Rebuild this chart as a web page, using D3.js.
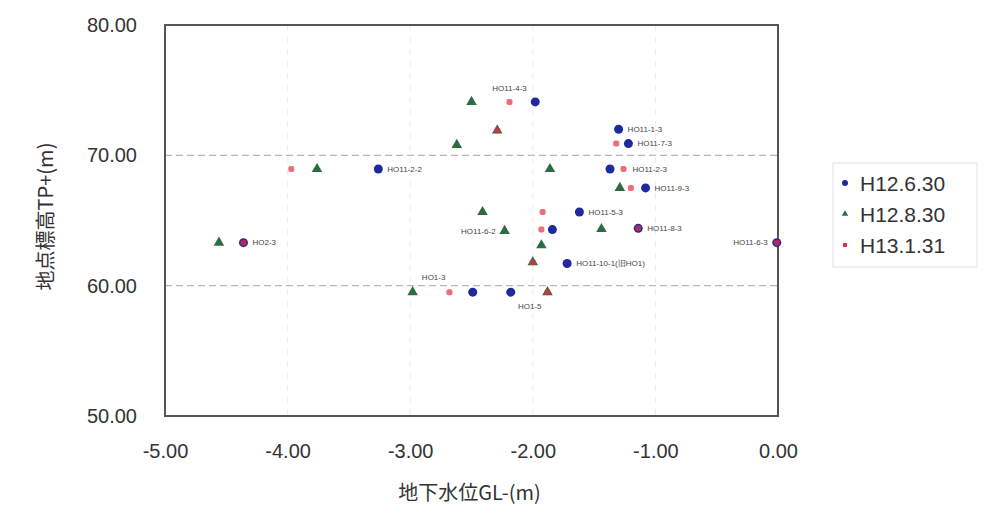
<!DOCTYPE html>
<html>
<head>
<meta charset="utf-8">
<script src="https://cdn.jsdelivr.net/npm/d3@7"></script>
<style>
  body { margin: 0; background: #fff; }
  text { font-family: "Liberation Sans", Arial, sans-serif; }
</style>
</head>
<body>
<div id="chart"></div>
<script>
// series (x = 地下水位 GL-, y = 地点標高 TP+)
var seriesNames = ["H12.6.30", "H12.8.30", "H13.1.31"];

var june = [
  [-1.98, 74.1], [-1.30, 72.0], [-1.22, 70.9], [-3.26, 68.95], [-1.37, 68.95],
  [-1.08, 67.5], [-1.62, 65.65], [-1.84, 64.3], [-1.14, 64.4], [-0.01, 63.3],
  [-4.36, 63.3], [-1.72, 61.7], [-2.49, 59.5], [-2.18, 59.5]
];
var august = [
  [-2.50, 74.1], [-2.62, 70.8], [-3.76, 68.95], [-1.86, 68.95], [-1.29, 67.5],
  [-2.41, 65.65], [-2.23, 64.2], [-1.44, 64.35], [-1.93, 63.1], [-4.56, 63.3],
  [-2.98, 59.5], [-1.88, 59.5], [-2.00, 61.8], [-2.29, 71.9]
];
var january = [
  [-2.19, 74.1], [-2.29, 71.9], [-1.32, 70.9], [-3.97, 68.95], [-1.26, 68.95],
  [-1.20, 67.5], [-1.92, 65.65], [-1.93, 64.3], [-1.14, 64.4], [-0.01, 63.3],
  [-4.36, 63.3], [-2.00, 61.8], [-2.68, 59.5], [-1.88, 59.5]
];

// point labels: name, point it belongs to, side
var labelNames = ["HO11-4-3", "HO11-1-3", "HO11-7-3", "HO11-2-2", "HO11-2-3", "HO11-9-3",
                  "HO11-5-3", "HO11-6-2", "HO11-8-3", "HO11-6-3", "HO2-3",
                  "HO11-10-1(旧HO1)", "HO1-3", "HO1-5"];
var labelX = [-2.19, -1.30, -1.22, -3.26, -1.26, -1.08, -1.62, -2.23, -1.14, -0.01, -4.36, -1.72, -2.68, -2.18];
var labelY = [74.1, 72.0, 70.9, 68.95, 68.95, 67.5, 65.65, 64.2, 64.4, 63.3, 63.3, 61.7, 59.5, 59.5];
var labelSide = ["above", "right", "right", "right", "right", "right", "right", "left",
                 "right", "left", "right", "right", "aboveLeft", "below"];

var xTicks = [-5, -4, -3, -2, -1, 0];
var yTicks = [50, 60, 70, 80];

var margin = {top: 25, right: 217, bottom: 97, left: 165},
    width = 995 - margin.left - margin.right,
    height = 513 - margin.top - margin.bottom;

var svg = d3.select("#chart")
  .append("svg")
    .attr("width", 995)
    .attr("height", 513)
  .append("g")
    .attr("transform", "translate(" + margin.left + "," + margin.top + ")");

var x = d3.scaleLinear().domain([-5, 0]).range([0, width]);
var y = d3.scaleLinear().domain([50, 80]).range([height, 0]);

// grid lines
svg.append("g")
  .selectAll("line")
  .data(yTicks.slice(1, -1))
  .enter().append("line")
    .attr("x1", 0).attr("x2", width)
    .attr("y1", function(d) { return y(d); })
    .attr("y2", function(d) { return y(d); })
    .style("stroke", "#b8b8b8")
    .style("stroke-width", 1.2)
    .style("stroke-dasharray", "7,4");

svg.append("g")
  .selectAll("line")
  .data(xTicks.slice(1, -1))
  .enter().append("line")
    .attr("y1", 0).attr("y2", height)
    .attr("x1", function(d) { return x(d); })
    .attr("x2", function(d) { return x(d); })
    .style("stroke", "#ebebeb")
    .style("stroke-width", 1)
    .style("stroke-dasharray", "6,6");

// axes
var xAxis = svg.append("g")
  .attr("transform", "translate(0," + height + ")")
  .call(d3.axisBottom(x).tickValues(xTicks).tickFormat(d3.format(".2f")).tickSize(0).tickPadding(28));
var yAxis = svg.append("g")
  .call(d3.axisLeft(y).tickValues(yTicks).tickFormat(d3.format(".2f")).tickSize(0).tickPadding(28));

[xAxis, yAxis].forEach(function(a) {
  a.select(".domain").remove();
  a.selectAll("text")
    .style("font-size", "20px")
    .style("fill", "#333")
    .style("font-family", "'Liberation Sans', Arial, sans-serif");
});
// plain hyphen-minus like the original
xAxis.selectAll("text").text(function(d) { return d.toFixed(2); });

// plot frame
svg.append("rect")
  .attr("width", width)
  .attr("height", height)
  .style("fill", "none")
  .style("stroke", "#555")
  .style("stroke-width", 2);

// markers
var tri = d3.symbol().type(d3.symbolTriangle).size(48);

svg.append("g").selectAll("circle")
  .data(june).enter().append("circle")
    .attr("cx", function(d) { return x(d[0]); })
    .attr("cy", function(d) { return y(d[1]); })
    .attr("r", 4.5)
    .style("fill", "#1c2a9c");

svg.append("g").selectAll("path")
  .data(august).enter().append("path")
    .attr("d", tri)
    .attr("transform", function(d) { return "translate(" + x(d[0]) + "," + y(d[1]) + ")"; })
    .style("fill", "#2e6b45");

svg.append("g").selectAll("rect")
  .data(january).enter().append("rect")
    .attr("x", function(d) { return x(d[0]) - 3; })
    .attr("y", function(d) { return y(d[1]) - 3; })
    .attr("width", 6)
    .attr("height", 6)
    .attr("rx", 2)
    .style("fill", "#e8303c")
    .style("opacity", 0.7);

// point labels
svg.append("g").selectAll("text")
  .data(labelNames).enter().append("text")
    .attr("x", function(d, i) {
      var s = labelSide[i], px = x(labelX[i]);
      if (s == "right") return px + 9;
      if (s == "left") return px - 9;
      if (s == "aboveLeft") return px - 4;
      if (s == "below") return px + 19;
      return px;
    })
    .attr("y", function(d, i) {
      var s = labelSide[i], py = y(labelY[i]);
      if (s == "above") return py - 14;
      if (s == "aboveLeft") return py - 15;
      if (s == "below") return py + 14;
      return py;
    })
    .attr("dy", ".35em")
    .style("text-anchor", function(d, i) {
      var s = labelSide[i];
      if (s == "left" || s == "aboveLeft") return "end";
      if (s == "right") return "start";
      return "middle";
    })
    .style("font-size", "8px")
    .style("fill", "#444")
    .text(function(d) { return d; });

// axis titles
svg.append("text")
  .attr("x", width / 2 - 2)
  .attr("y", height + 84)
  .style("text-anchor", "middle")
  .style("font-size", "20px")
  .style("fill", "#333")
  .style("font-family", "'Noto Sans CJK JP', sans-serif")
  .text("地下水位GL-(m)");

svg.append("text")
  .attr("transform", "rotate(-90)")
  .attr("x", -height / 2 + 4)
  .attr("y", -112)
  .style("text-anchor", "middle")
  .style("font-size", "20px")
  .style("fill", "#333")
  .style("font-family", "'Noto Sans CJK JP', sans-serif")
  .text("地点標高TP+(m)");

// legend
var legend = svg.append("g")
  .attr("transform", "translate(" + (width + 55) + ",138)");

legend.append("rect")
  .attr("width", 144)
  .attr("height", 104)
  .style("fill", "#fff")
  .style("stroke", "#e4e4e4");

var item = legend.selectAll(".legend")
  .data(seriesNames)
  .enter().append("g")
    .attr("class", "legend")
    .attr("transform", function(d, i) { return "translate(12," + (20 + i * 31) + ")"; });

item.each(function(d, i) {
  var g = d3.select(this);
  if (i == 0) g.append("circle").attr("r", 3).style("fill", "#1c2a9c");
  if (i == 1) g.append("path").attr("d", d3.symbol().type(d3.symbolTriangle).size(18)).style("fill", "#2e6b45");
  if (i == 2) g.append("rect").attr("x", -2).attr("y", -2).attr("width", 4).attr("height", 4).style("fill", "#e8303c");
});

item.append("text")
  .attr("x", 15)
  .attr("dy", ".36em")
  .style("font-size", "21px")
  .style("fill", "#333")
  .text(function(d) { return d; });
</script>
</body>
</html>
